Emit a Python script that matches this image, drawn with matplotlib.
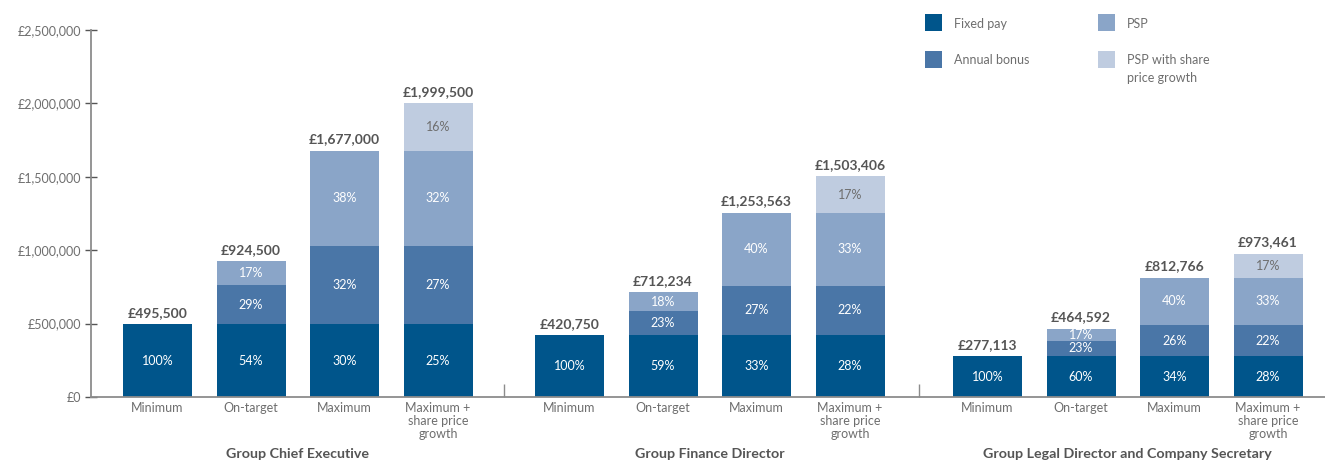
import matplotlib
matplotlib.use("Agg")
import matplotlib.pyplot as plt
from matplotlib.patches import Rectangle
import numpy as np

plt.rcParams['font.family'] = ['Lato', 'DejaVu Sans']

# ---------------- data ----------------
groups = ["Group Chief Executive", "Group Finance Director",
          "Group Legal Director and Company Secretary"]
scenarios = ["Minimum", "On-target", "Maximum", "Maximum +\nshare price\ngrowth"]
series_names = ["Fixed pay", "Annual bonus", "PSP", "PSP with share\nprice growth"]

# component values (£) per group, per scenario
fixed_pay = [[495500, 495500, 495500, 495500],
             [420750, 420750, 420750, 420750],
             [277113, 277113, 277113, 277113]]
annual_bonus = [[0, 267500, 535000, 535000],
                [0, 164000, 338000, 338000],
                [0, 107000, 213000, 213000]]
psp = [[0, 161500, 646500, 646500],
       [0, 127484, 494813, 494813],
       [0, 80479, 322653, 322653]]
psp_growth = [[0, 0, 0, 322500],
              [0, 0, 0, 249843],
              [0, 0, 0, 160695]]

totals = [[495500, 924500, 1677000, 1999500],
          [420750, 712234, 1253563, 1503406],
          [277113, 464592, 812766, 973461]]

# percentage labels shown in each segment
pct_fixed = [["100%", "54%", "30%", "25%"],
             ["100%", "59%", "33%", "28%"],
             ["100%", "60%", "34%", "28%"]]
pct_bonus = [[None, "29%", "32%", "27%"],
             [None, "23%", "27%", "22%"],
             [None, "23%", "26%", "22%"]]
pct_psp = [[None, "17%", "38%", "32%"],
           [None, "18%", "40%", "33%"],
           [None, "17%", "40%", "33%"]]
pct_growth = [[None, None, None, "16%"],
              [None, None, None, "17%"],
              [None, None, None, "17%"]]

yticks = [0, 500000, 1000000, 1500000, 2000000, 2500000]
ytick_labels = ["£0", "£500,000", "£1,000,000", "£1,500,000", "£2,000,000", "£2,500,000"]

# ---------------- style ----------------
colors = ["#00558B", "#4A76A7", "#8AA5C8", "#BFCCE0"]
label_colors = ["white", "white", "white", "#6E6E6E"]
axis_color = "#8C8C8C"
tick_text = "#6E6E6E"
dark_text = "#555555"

W, H = 1325, 461
fig = plt.figure(figsize=(W / 100, H / 100), dpi=100)
ax_left, ax_right, ax_bottom, ax_top = 91, 1325, 397, 30
ax = fig.add_axes([ax_left / W, (H - ax_bottom) / H,
                   (ax_right - ax_left) / W, (ax_bottom - ax_top) / H])

step = 93.5
group_offsets = [0, 412 / step, 830 / step]
bar_width = 69 / step
first_center = 157.5

series = [fixed_pay, annual_bonus, psp, psp_growth]
pcts = [pct_fixed, pct_bonus, pct_psp, pct_growth]

all_x = []
for g in range(len(groups)):
    x = group_offsets[g] + np.arange(len(scenarios))
    all_x.extend(x)
    bottom = np.zeros(len(scenarios))
    for s in range(len(series)):
        vals = np.array(series[s][g], dtype=float)
        bars = ax.bar(x, vals, bar_width, bottom=bottom, color=colors[s],
                      linewidth=0, zorder=2)
        for i, bar in enumerate(bars):
            lab = pcts[s][g][i]
            if lab and vals[i] > 0:
                ax.text(bar.get_x() + bar.get_width() / 2,
                        bottom[i] + vals[i] / 2, lab, ha="center", va="center",
                        color=label_colors[s], fontsize=9, zorder=3)
        bottom += vals
    for i in range(len(scenarios)):
        ax.annotate(f"£{totals[g][i]:,}", (x[i], totals[g][i]),
                    xytext=(0, 4), textcoords="offset points",
                    ha="center", va="bottom", fontsize=10, fontweight="bold",
                    color=dark_text)
    # group title
    ax.text(np.mean(x), -0.156, groups[g], transform=ax.get_xaxis_transform(),
            ha="center", va="center", fontsize=10.3, fontweight="bold", color=dark_text)

xl = (ax_left - first_center) / step
xr = (ax_right - first_center) / step
ax.set_xlim(xl, xr)
ax.set_ylim(0, 2500000)

# separators between groups
seps = [(group_offsets[g] + 3 + group_offsets[g + 1]) / 2 for g in range(len(groups) - 1)]
ax.set_xticks(seps)
ax.set_xticklabels([])
ax.tick_params(axis="x", which="major", direction="in", length=9.5, width=1,
               color=axis_color)
ax.set_xticks(all_x, minor=True)
ax.set_xticklabels(scenarios * len(groups), minor=True)
ax.tick_params(axis="x", which="minor", length=0, pad=3.5, labelsize=9,
               labelcolor=tick_text)
for t in ax.get_xticklabels(minor=True):
    t.set_linespacing(1.12)

ax.set_yticks(yticks)
ax.set_yticklabels(ytick_labels)
ax.tick_params(axis="y", direction="inout", length=8.5, width=1, color="#555555",
               labelsize=9, labelcolor=tick_text, pad=3)

for side in ["top", "right"]:
    ax.spines[side].set_visible(False)
ax.spines["left"].set_color(axis_color)
ax.spines["bottom"].set_color(axis_color)
ax.spines["left"].set_linewidth(1.3)
ax.spines["bottom"].set_linewidth(1.3)

# legend (manual, figure pixel coordinates)
leg_cols = [925, 1098]
leg_rows = [14, 51]
sq = 17
order = [(0, 0), (0, 1), (1, 0), (1, 1)]
for k, (c, r) in enumerate(order):
    x0, y0 = leg_cols[c], leg_rows[r]
    fig.add_artist(Rectangle((x0 / W, 1 - (y0 + sq) / H), sq / W, sq / H,
                             transform=fig.transFigure, color=colors[k], lw=0))
    lines = series_names[k].split("\n")
    for j, line in enumerate(lines):
        fig.text((x0 + 29) / W, 1 - (y0 + sq / 2 + 1 + 17 * j) / H, line,
                 ha="left", va="center", fontsize=9, color=tick_text)

fig.savefig("out.png", dpi=100)
